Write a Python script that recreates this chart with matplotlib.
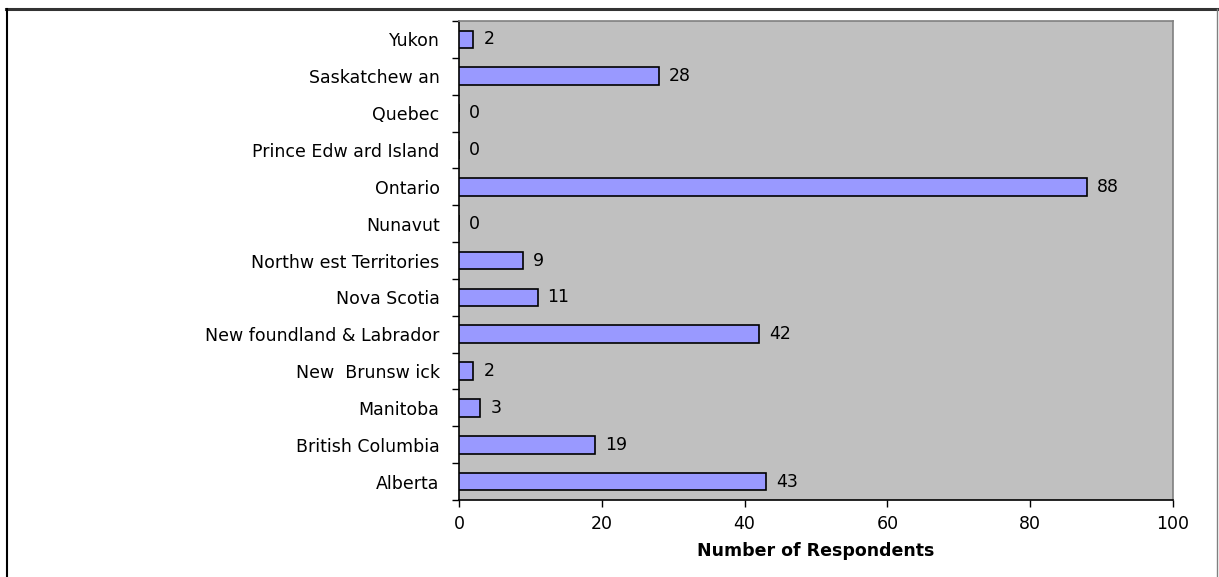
import matplotlib
matplotlib.use("Agg")
import matplotlib.pyplot as plt
from matplotlib.lines import Line2D

plt.rcParams['font.family'] = ['DejaVu Sans']

categories = ["Alberta", "British Columbia", "Manitoba", "New  Brunsw ick",
              "New foundland & Labrador", "Nova Scotia", "Northw est Territories",
              "Nunavut", "Ontario", "Prince Edw ard Island", "Quebec",
              "Saskatchew an", "Yukon"]
values = [43, 19, 3, 2, 42, 11, 9, 0, 88, 0, 0, 28, 2]
x_ticks = [0, 20, 40, 60, 80, 100]
x_label = "Number of Respondents"

FS = 12.5

fig = plt.figure(figsize=(12.19, 5.77), dpi=100)
ax = fig.add_axes([459/1219, 1-500/577, (1173-459)/1219, (500-21)/577])
ax.set_facecolor('#C0C0C0')

ypos = list(range(len(categories)))
ax.barh(ypos, values, height=0.48, color='#9999FF', edgecolor='black', linewidth=1.2, zorder=3)
for y, v in zip(ypos, values):
    ax.text(v + 1.4, y, str(v), va='center', ha='left', fontsize=FS, color='black', zorder=4)

ax.set_xlim(0, 100)
ax.set_ylim(-0.5, len(categories) - 0.5)
ax.set_xticks(x_ticks)
ax.set_xticklabels([str(t) for t in x_ticks], fontsize=FS)
ax.set_yticks(ypos)
ax.set_yticklabels(categories, fontsize=FS)
ax.tick_params(axis='y', length=0, pad=14)
ax.set_yticks([y - 0.5 for y in ypos] + [len(categories) - 0.5], minor=True)
ax.tick_params(axis='y', which='minor', length=5, width=1, direction='out', color='black')
ax.tick_params(axis='x', length=5, width=1, direction='out', pad=6)
ax.set_xlabel(x_label, fontsize=FS, fontweight='bold', labelpad=6)

ax.spines['left'].set_color('black')
ax.spines['bottom'].set_color('black')
ax.spines['top'].set_color('#808080')
ax.spines['right'].set_color('#808080')
for s in ax.spines.values():
    s.set_linewidth(1.2)

# outer frame
fig.add_artist(Line2D([6/1219, 1], [1-8.5/577, 1-8.5/577], transform=fig.transFigure, color='#333333', linewidth=2.2))
fig.add_artist(Line2D([6.5/1219, 6.5/1219], [0, 1-8.5/577], transform=fig.transFigure, color='black', linewidth=1.5))
fig.add_artist(Line2D([1217/1219, 1217/1219], [0, 1-8.5/577], transform=fig.transFigure, color='#808080', linewidth=1.0))

fig.savefig("out.png", dpi=100)
